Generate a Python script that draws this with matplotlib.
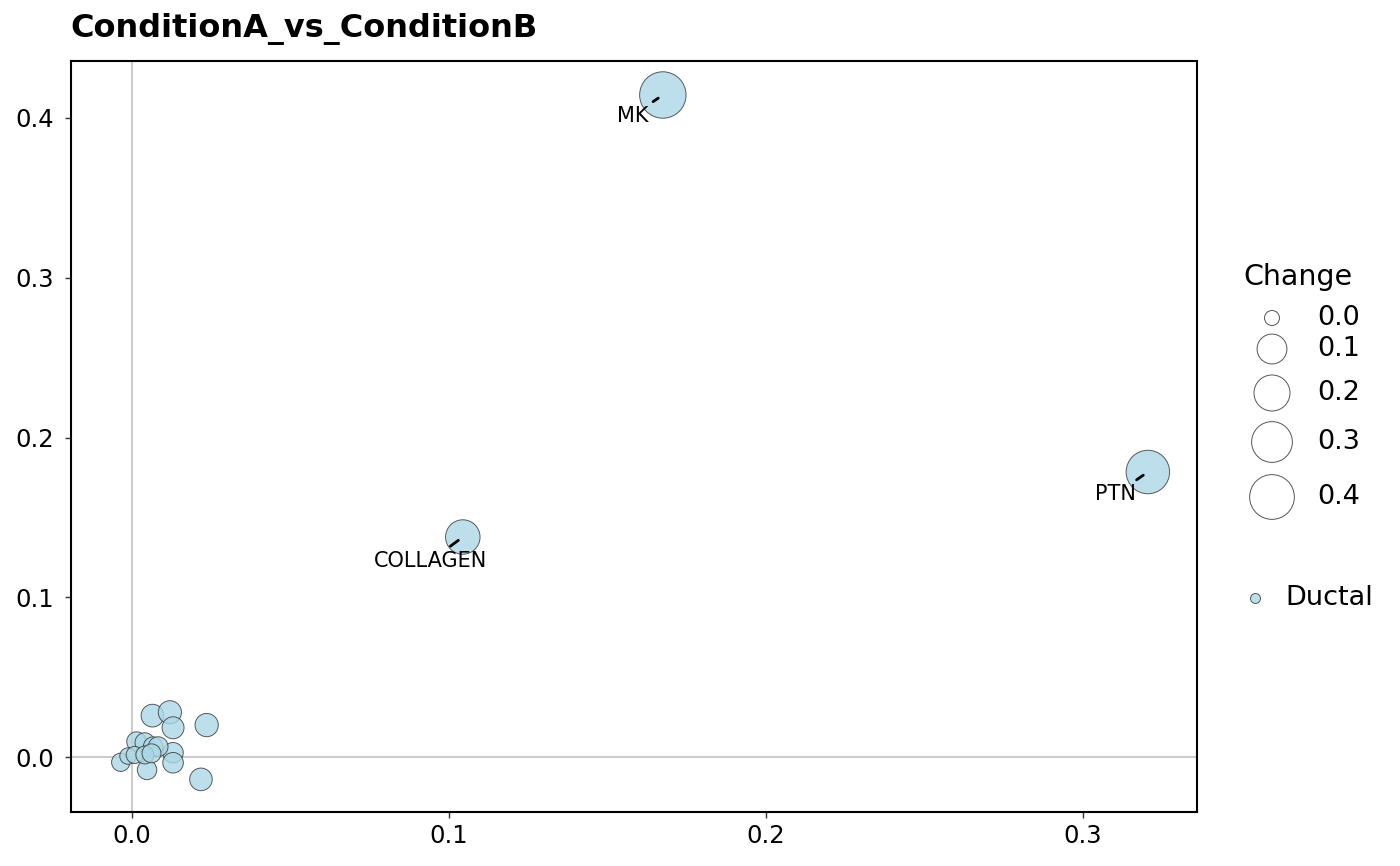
import numpy as np
import matplotlib
matplotlib.use('Agg')
import matplotlib.pyplot as plt

# Datos
pathway = ['MK', 'PTN', 'COLLAGEN'] + [''] * 17
x_vals = [0.1675, 0.3205, 0.1044,
          0.0065, 0.0120, 0.0130, 0.0236, -0.0035, 0.0048, 0.0130, 0.0130,
          0.0218, 0.0015, 0.0041, 0.0067, 0.0083, -0.0012, 0.0009, 0.0041, 0.0062]
y_vals = [0.4144, 0.1784, 0.1377,
          0.0259, 0.0280, 0.0183, 0.0200, -0.0033, -0.0081, 0.0027, -0.0036,
          -0.0140, 0.0096, 0.0090, 0.0065, 0.0065, 0.0006, 0.0013, 0.0013, 0.0023]
change = [0.447, 0.367, 0.172,
          0.027, 0.030, 0.022, 0.031, 0.005, 0.009, 0.013, 0.014,
          0.026, 0.010, 0.010, 0.009, 0.010, 0.001, 0.002, 0.004, 0.007]
legend_breaks = [0.0, 0.1, 0.2, 0.3, 0.4]
legend_labels = ['0.0', '0.1', '0.2', '0.3', '0.4']
title = 'ConditionA_vs_ConditionB'
group = 'Ductal'

FILL = '#ADD8E6'
EDGE = '#333333'


def size_de(v):
    # diametro en px ~ 15 + 47*sqrt(v), convertido a puntos^2
    d_px = 15 + 47 * np.sqrt(np.asarray(v))
    return (d_px * 0.72) ** 2


fig = plt.figure(figsize=(14, 8.66), dpi=100)
ax = fig.add_axes([0.0507, 0.0624, 0.8043, 0.8672])

ax.axhline(0, color='#cccccc', linewidth=1.5, zorder=0)
ax.axvline(0, color='#cccccc', linewidth=1.5, zorder=0)

ax.scatter(x_vals, y_vals, s=size_de(change), c=FILL, alpha=0.8,
           edgecolors=EDGE, linewidths=0.7, zorder=2)

# Etiquetas con segmento
offsets = {'MK': (-22, -15), 'PTN': (-23, -16), 'COLLAGEN': (-23, -17)}
for name, xv, yv in zip(pathway, x_vals, y_vals):
    if not name:
        continue
    ax.annotate(name, (xv, yv), xytext=offsets[name], textcoords='offset points',
                ha='center', va='center', fontsize=15, zorder=3,
                arrowprops=dict(arrowstyle='-', color='black', lw=2,
                                shrinkA=2, shrinkB=4))

ax.set_xlim(-0.0192, 0.336)
ax.set_ylim(-0.0344, 0.4357)
ax.set_xticks([0.0, 0.1, 0.2, 0.3])
ax.set_yticks([0.0, 0.1, 0.2, 0.3, 0.4])
ax.xaxis.set_major_formatter(matplotlib.ticker.FormatStrFormatter('%.1f'))
ax.yaxis.set_major_formatter(matplotlib.ticker.FormatStrFormatter('%.1f'))
ax.tick_params(labelsize=17.5, length=4, width=1, color='#333333')
ax.tick_params(axis='y', pad=8)
ax.tick_params(axis='x', pad=5)
for sp in ax.spines.values():
    sp.set_linewidth(1.5)
    sp.set_color('black')

fig.text(0.05, 0.967, title, fontsize=23, fontweight='bold', ha='left', va='center')

# Leyenda manual (coordenadas en px dentro del panel derecho)
lax = fig.add_axes([0.87, 0.0, 0.13, 1.0])
lax.set_xlim(0, 182)
lax.set_ylim(866, 0)
lax.axis('off')
lax.text(25, 277, 'Change', fontsize=20.5, ha='left', va='center')
legend_y = [318, 349, 393, 442, 497]
lax.scatter([54] * len(legend_breaks), legend_y, s=size_de(legend_breaks),
            facecolors='white', edgecolors='#555555', linewidths=0.7)
for yy, lab in zip(legend_y, legend_labels):
    lax.text(99, yy, lab, fontsize=19.5, ha='left', va='center')
lax.scatter([37], [598], s=(10 * 0.72) ** 2, c=FILL, alpha=0.8,
            edgecolors=EDGE, linewidths=0.7)
lax.text(67, 598, group, fontsize=19.5, ha='left', va='center')

plt.savefig('out.png', dpi=100)
plt.close()
